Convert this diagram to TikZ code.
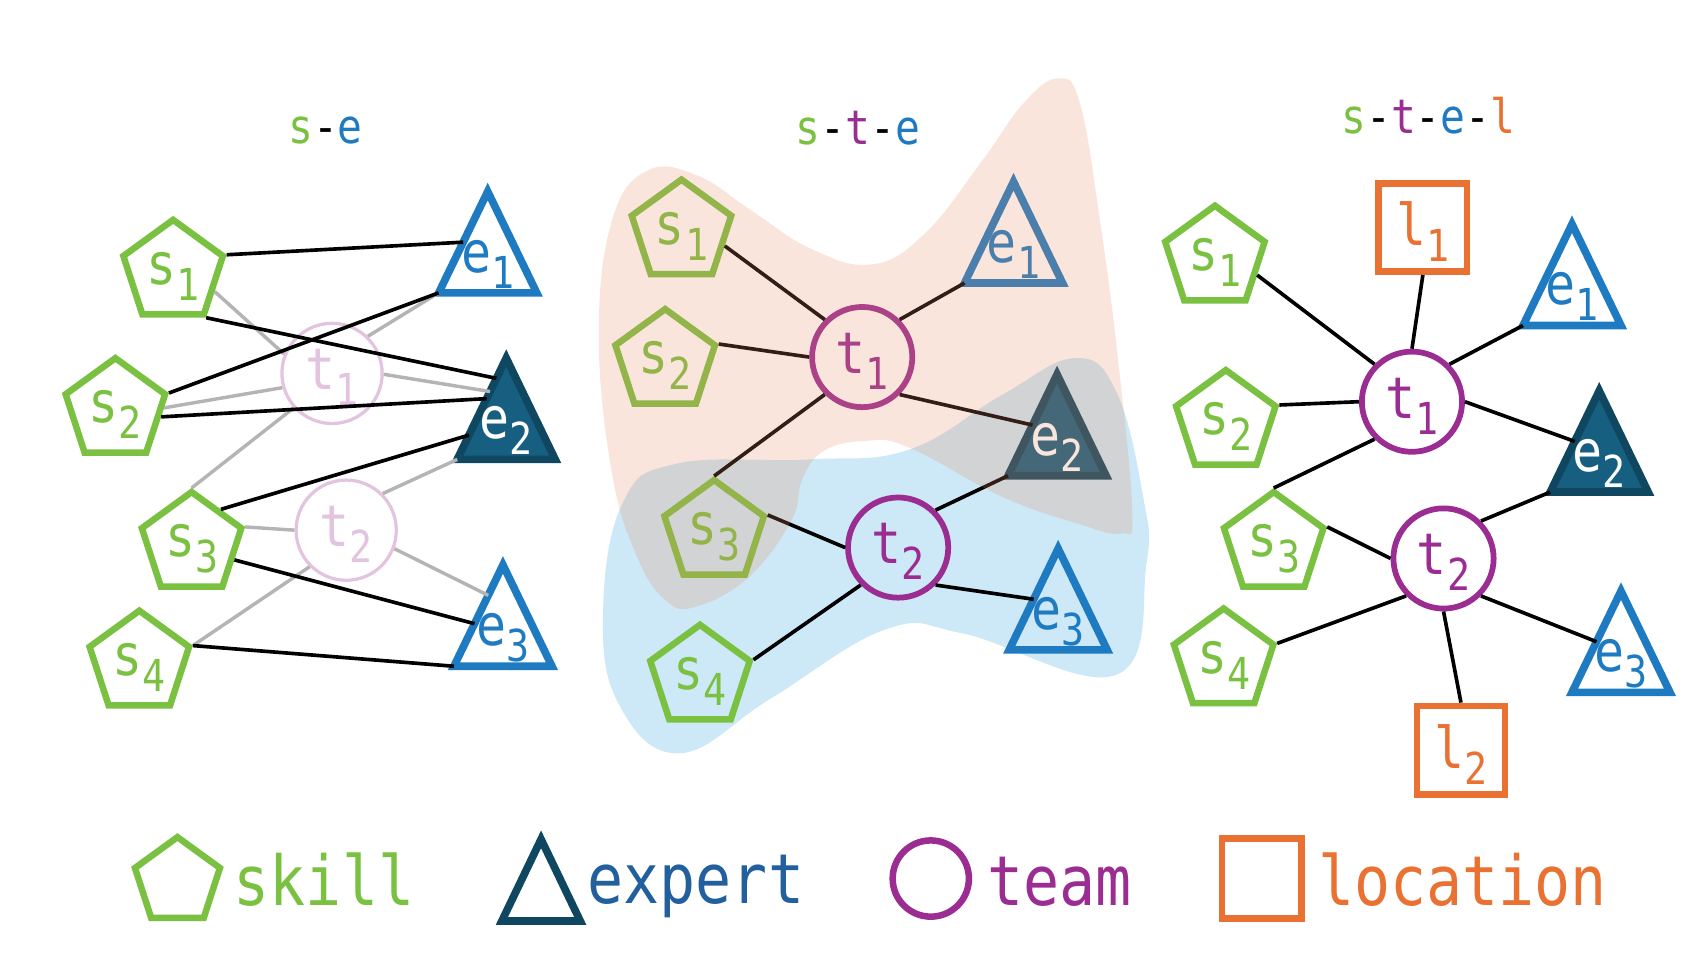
\documentclass[tikz,border=0pt]{standalone}
\usepackage{fontspec}
\setmainfont{DejaVu Sans Mono}[FakeStretch=0.87]
\usepackage{tikz}
\usetikzlibrary{positioning, shapes.geometric, calc}

\definecolor{skillgreen}{RGB}{122,193,66}
\definecolor{expertblue}{RGB}{31,123,193}
\definecolor{expertfill}{RGB}{23,95,128}
\definecolor{expertdark}{RGB}{16,71,96}
\definecolor{expertword}{RGB}{34,96,157}
\definecolor{teampurple}{RGB}{155,45,146}
\definecolor{locorange}{RGB}{233,113,50}
\definecolor{blobpeach}{RGB}{232,137,96}
\definecolor{blobsky}{RGB}{205,232,246}
\definecolor{linkgrey}{RGB}{180,180,180}

\newcommand{\nlab}[2]{#1\raisebox{-4.2pt}[0pt][2pt]{\fontsize{11.5}{11.5}\selectfont #2}}

\tikzset{
	node distance=0.3cm and 0.3cm,
	every text node part/.style= {
		align=center
	},
	skill/.style= {
		regular polygon,
		regular polygon sides=5,
		minimum size=0.96cm,
		inner sep=0pt,
		draw=skillgreen,
		text=skillgreen,
		line width=1.7pt,
		font=\fontsize{15}{15}\selectfont
	},
	expert/.style= {
		isosceles triangle,
		shape border rotate=90,
		isosceles triangle stretches,
		minimum width=0.90cm,
		minimum height=0.93cm,
		inner sep=0pt,
		outer sep=0pt,
		anchor=south,
		draw=expertblue,
		line width=2pt
	},
	topexpert/.style= {
		expert,
		fill=expertfill,
		draw=expertdark
	},
	elab/.style= {
		anchor=base,
		yshift=0.19cm,
		inner sep=0pt,
		text=expertblue,
		font=\fontsize{15}{15}\selectfont
	},
	topelab/.style= {
		elab,
		text=white
	},
	team/.style= {
		circle,
		minimum size=0.92cm,
		inner sep=0pt,
		draw=teampurple,
		text=teampurple,
		line width=1.5pt,
		font=\fontsize{15}{15}\selectfont
	},
	ghost/.style= {
		team,
		draw=teampurple!28,
		text=teampurple!28,
		line width=0.85pt
	},
	location/.style= {
		rectangle,
		minimum size=0.81cm,
		inner sep=0pt,
		draw=locorange,
		text=locorange,
		line width=1.75pt,
		font=\fontsize{15}{15}\selectfont
	},
	link/.style= {
		black,
		line width=0.95pt
	},
	faint/.style= {
		linkgrey,
		line width=0.9pt
	},
	heading/.style= {
		anchor=base,
		font=\fontsize{12.4}{12.4}\selectfont
	},
	keytext/.style= {
		anchor=base west,
		inner sep=0pt,
		font=\fontsize{18}{18}\selectfont
	}
}

\begin{document}
\begin{tikzpicture}[x=0.01cm, y=-0.01cm]

	\useasboundingbox (0,0) rectangle (1568,882);

	% titles
	\node (headse)[heading] at (299,132) {\textcolor{skillgreen}{s}-\textcolor{expertblue}{e}};
	\node (headste)[heading] at (788,133) {\textcolor{skillgreen}{s}-\textcolor{teampurple}{t}-\textcolor{expertblue}{e}};
	\node (headstel)[heading] at (1312,123) {\textcolor{skillgreen}{s}-\textcolor{teampurple}{t}-\textcolor{expertblue}{e}-\textcolor{locorange}{l}};

	% s-e
	\foreach \i/\x/\y in {1/159/250, 2/106/377, 3/176/500, 4/128/609}
	{
		\node (As\i)[skill] at (\x,\y) {\nlab{s}{\i}};
	}
	\node (Ae1)[expert, label={[elab]south:\nlab{e}{1}}] at (448,269) {};
	\node (Ae2)[topexpert, label={[topelab]south:\nlab{e}{2}}] at (465,422) {};
	\node (Ae3)[expert, label={[elab]south:\nlab{e}{3}}] at (462,612) {};
	\node (At1)[ghost] at (305,343) {\nlab{t}{1}};
	\node (At2)[ghost] at (318,487) {\nlab{t}{2}};

	\draw[faint] (As1.-25) -- (At1.158);
	\draw[faint] (As2.3) -- (At1.196);
	\draw[faint] (As3.corner 1) -- (At1.222);
	\draw[faint] (At1.46) -- (Ae1.left corner);
	\draw[faint] (At1.-1) -- ($(Ae2.apex)!0.33!(Ae2.left corner)$);
	\draw[faint] (As3.corner 5) -- (At2.west);
	\draw[faint] (As4.corner 5) -- (At2.225);
	\draw[faint] (At2.45) -- (Ae2.left corner);
	\draw[faint] (At2.-21) -- ($(Ae3.apex)!0.3!(Ae3.left corner)$);

	\draw[link] (As1.corner 5) -- (Ae1.left side);
	\draw[link] (As1.corner 4) -- ($(Ae2.apex)!0.2!(Ae2.left corner)$);
	\draw[link] (As2.corner 5) -- (Ae1.left corner);
	\draw[link] (As2.-8) -- ($(Ae2.apex)!0.4!(Ae2.left corner)$);
	\draw[link] (As3.50) -- ($(Ae2.apex)!0.76!(Ae2.left corner)$);
	\draw[link] (As3.-20) -- ($(Ae3.apex)!0.58!(Ae3.left corner)$);
	\draw[link] (As4.corner 5) -- (Ae3.left corner);

	% s-t-e
	\fill[blobsky] plot[smooth cycle, tension=0.7] coordinates {(554,561) (572,462) (621,426) (744,422) (835,413) (920,363) (987,329) (1025,359) (1050,456) (1053,519) (1025,620) (885,582) (814,578) (709,641) (624,692) (568,646)};

	\foreach \i/\x/\y in {1/626/213, 2/611/332, 3/656/489, 4/643/622}
	{
		\node (Bs\i)[skill] at (\x,\y) {\nlab{s}{\i}};
	}
	\node (Bt1)[team] at (792,328) {\nlab{t}{1}};
	\node (Bt2)[team] at (825,503) {\nlab{t}{2}};
	\node (Be1)[expert, label={[elab]south:\nlab{e}{1}}] at (931,260) {};
	\node (Be2)[topexpert, label={[topelab]south:\nlab{e}{2}}] at (971,437) {};
	\node (Be3)[expert, label={[elab]south:\nlab{e}{3}}] at (972,597) {};

	\foreach \a/\b in {Bs1.-18/Bt1.135, Bs2.corner 5/Bt1.west, Bs3.corner 1/Bt1.225, Bt1.45/Be1.left corner, Bt1.-45/Be2.left side, Bs3.corner 5/Bt2.west, Bs4.corner 5/Bt2.225, Bt2.45/Be2.left corner, Bt2.-45/Be3.left side}
	{
		\draw[link] (\a) -- (\b);
	}

	\fill[blobpeach, fill opacity=0.22] plot[smooth cycle, tension=0.7] coordinates {(562,203) (594,157) (640,161) (691,194) (744,228) (800,243) (849,215) (902,148) (940,95) (972,72) (992,95) (1010,200) (1027,330) (1040,470) (1030,490) (990,481) (920,456) (835,411) (795,405) (757,414) (737,440) (727,478) (688,530) (640,557) (612,552) (585,511) (562,434) (550,308)};

	% s-t-e-l
	\foreach \i/\x/\y in {1/1116/237, 2/1126/388, 3/1170/500, 4/1124/607}
	{
		\node (Cs\i)[skill] at (\x,\y) {\nlab{s}{\i}};
	}
	\node (Ct1)[team] at (1297,369) {\nlab{t}{1}};
	\node (Ct2)[team] at (1326,513) {\nlab{t}{2}};
	\node (Cl1)[location] at (1307,209) {\nlab{l}{1}};
	\node (Cl2)[location] at (1342,689) {\nlab{l}{2}};
	\node (Ce1)[expert, label={[elab]south:\nlab{e}{1}}] at (1444,299) {};
	\node (Ce2)[topexpert, label={[topelab]south:\nlab{e}{2}}] at (1469,452) {};
	\node (Ce3)[expert, label={[elab]south:\nlab{e}{3}}] at (1489,636) {};

	\foreach \a/\b in {Cs1.-22/Ct1.135, Cs2.corner 5/Ct1.west, Cs3.corner 1/Ct1.225, Cl1.south/Ct1.north, Ct1.45/Ce1.left corner, Ct1.east/Ce2.left side, Cs3.corner 5/Ct2.west, Cs4.corner 5/Ct2.225, Ct2.45/Ce2.left corner, Ct2.-45/Ce3.left side, Ct2.south/Cl2.north}
	{
		\draw[link] (\a) -- (\b);
	}

	% legend
	\node (keyskill)[skill, minimum size=0.82cm] at (163,810) {};
	\node (keyskilltxt)[keytext, text=skillgreen] at (214,832) {skill};
	\node (keyexpert)[expert, draw=expertdark, minimum width=0.72cm, minimum height=0.75cm] at (497,846) {};
	\node (keyexperttxt)[keytext, text=expertword] at (539,830) {expert};
	\node (keyteam)[team, minimum size=0.7cm, line width=1.7pt] at (855,807) {};
	\node (keyteamtxt)[keytext, text=teampurple] at (906,832) {team};
	\node (keyloc)[location, minimum size=0.73cm] at (1159,807) {};
	\node (keyloctxt)[keytext, text=locorange] at (1210,832) {location};

\end{tikzpicture}
\end{document}
